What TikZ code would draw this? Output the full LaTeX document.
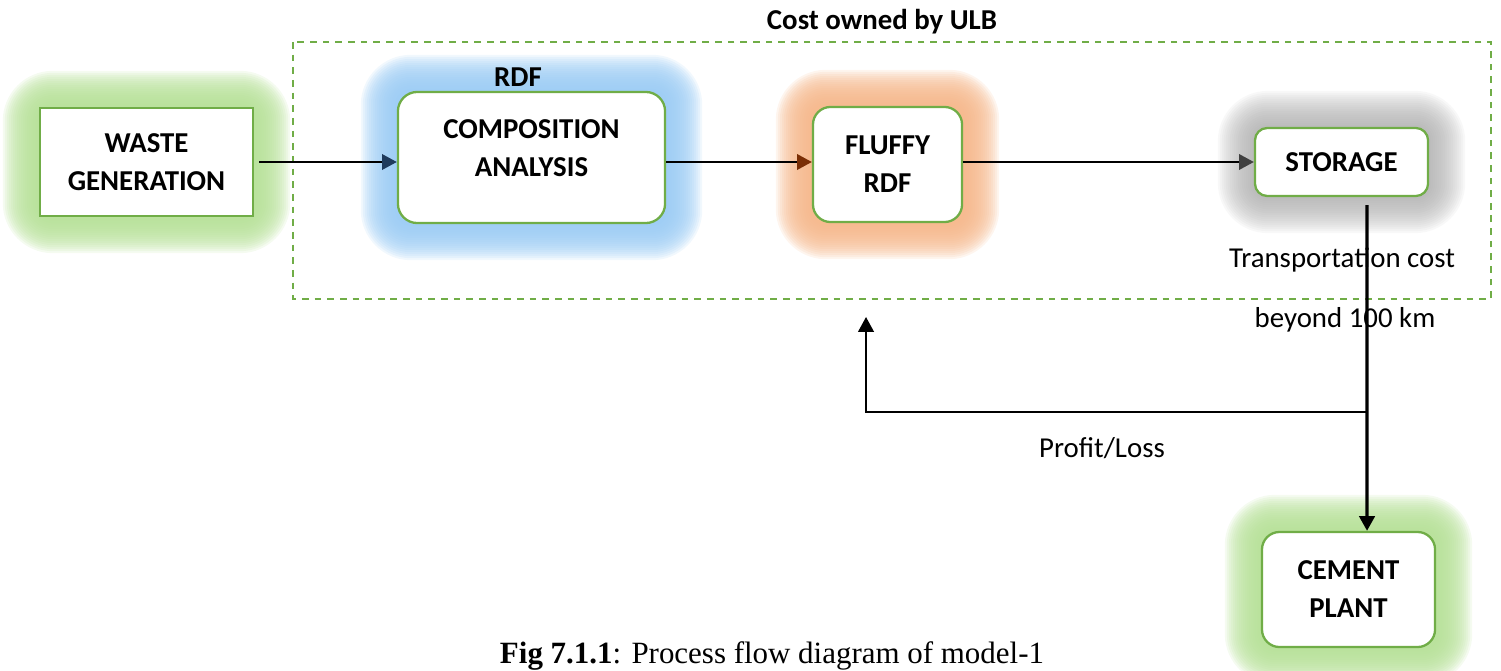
\documentclass[tikz,border=0pt]{standalone}
\usepackage{fontspec}
\setmainfont{Carlito}
\newfontfamily\capfont{Liberation Serif}
\usepackage{tikz}
\usetikzlibrary{arrows.meta,positioning,calc,backgrounds}
\definecolor{boxgreen}  {HTML}{70AD47}
\definecolor{glowgreen} {HTML}{B5E096}
\definecolor{glowblue}  {HTML}{9ACBF4}
\definecolor{gloworange}{HTML}{F5B689}
\definecolor{glowgrey}  {HTML}{A8A8A8}
\definecolor{tipnavy}   {HTML}{1F3B5C}
\definecolor{tipbrown}  {HTML}{7A2E05}
\definecolor{tipgrey}   {HTML}{404040}

\begin{document}
\begin{tikzpicture}[
  x=0.01cm, y=-0.01cm,
  box/.style={draw=boxgreen,fill=white,line width=0.65pt,rounded corners=5pt,
              align=center,inner sep=0pt,font=\fontsize{8.2}{10.8}\selectfont\bfseries},
  txt/.style={anchor=base,inner sep=0pt,font=\fontsize{8.2}{10.8}\selectfont},
  flow/.style={line width=0.6pt},
  headarr/.style={-{Triangle[length=4.2pt,width=4.4pt,color=#1]}},
  costframe/.style={draw=boxgreen,line width=0.6pt,dash pattern=on 1.9pt off 1.7pt}
]
\useasboundingbox (0,0) rectangle (1501,670);

% --- process boxes ---
\node[box,rounded corners=0pt,minimum width=2.13cm,minimum height=1.08cm] (waste)  at (146.5,162)   {WASTE\\GENERATION};
\node[box,rounded corners=5.5pt,minimum width=2.67cm,minimum height=1.31cm] (comp)  at (531.5,157.5) {COMPOSITION\\ANALYSIS\\[-5.7pt]\mbox{}};
\node[box,minimum width=1.49cm,minimum height=1.15cm]                     (fluffy) at (887.5,164.5) {FLUFFY\\RDF};
\node[box,rounded corners=3.5pt,minimum width=1.73cm,minimum height=0.68cm] (store) at (1341.5,162)  {STORAGE};
\node[box,minimum width=1.73cm,minimum height=1.15cm]                     (cement) at (1348.5,589.5) {CEMENT\\PLANT};

% --- glow round each box ---
\begin{scope}[on background layer]
  \foreach \n/\c/\o in {waste/glowgreen/0.14, comp/glowblue/0.14, fluffy/gloworange/0.14,
                        store/glowgrey/0.08, cement/glowgreen/0.14}
    \foreach \r in {2,4,...,36}{
      \pgfmathsetlengthmacro\rc{\r*0.01cm+4pt}
      \fill[\c,fill opacity=\o,rounded corners=\rc]
        ($(\n.north west)+(-\r,-\r)$) rectangle ($(\n.south east)+(\r,\r)$);
    }
\end{scope}

% --- texts ---
\node[txt,font=\fontsize{8.2}{10.8}\selectfont\bfseries] (ulblbl) at (882,30) {Cost owned by ULB};
\node[txt,font=\fontsize{8.2}{10.8}\selectfont\bfseries] (rdflbl) at (518,87) {RDF};
\node[txt] (translbl)  at (1342,267) {Transportation cost};
\node[txt] (beyondlbl) at (1345,327) {beyond 100 km};
\node[txt] (pllbl)     at (1102,457) {Profit/Loss};
\node[anchor=base,inner sep=0pt,font=\capfont\fontsize{8.8}{10}\selectfont] (caption) at (772,663)
  {\textbf{Fig 7.1.1}: Process flow diagram of model-1};

% --- ULB cost frame ---
\draw[costframe] (293,42) rectangle (1491,299);

% --- arrows ---
\draw[flow,headarr=tipnavy]  ([xshift=0.05cm]waste.east) -- (waste.east -| comp.west);
\draw[flow,headarr=tipbrown] ([yshift=0.025cm]fluffy.west -| comp.east) -- ([yshift=0.025cm]fluffy.west);
\draw[flow,headarr=tipgrey]  (fluffy.east |- store.west) -- (store.west);
\draw[line width=0.9pt,headarr=black] ([xshift=0.255cm,yshift=-0.08cm]store.south) -- ([xshift=0.185cm]cement.north);

\coordinate (split) at (1367,412);
\coordinate (fbk)   at (866,317);
\draw[flow,headarr=black] (split) -| (fbk);
\end{tikzpicture}
\end{document}
